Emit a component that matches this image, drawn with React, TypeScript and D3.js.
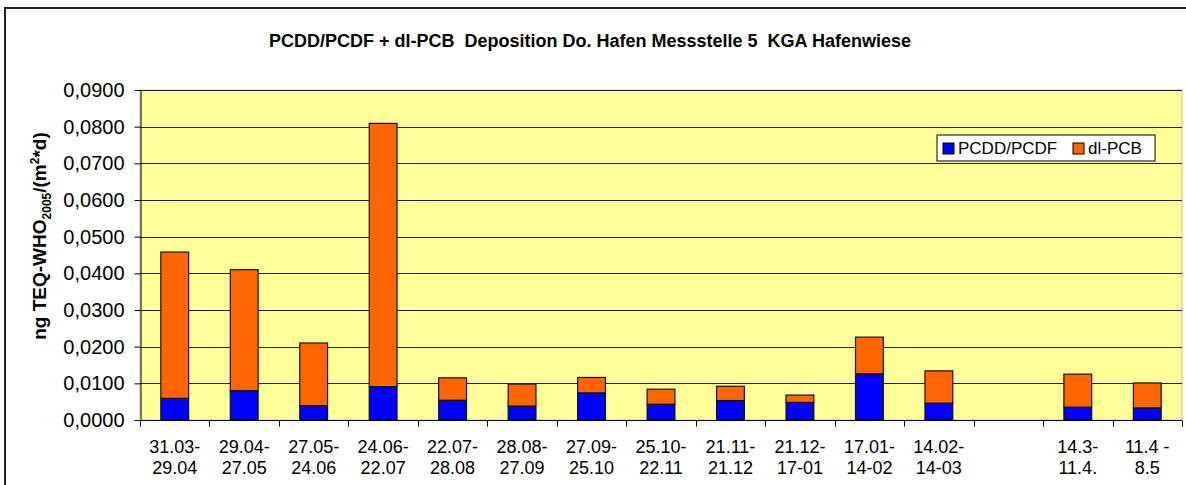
import * as d3 from "d3";
import { useEffect, useRef } from "react";

// x categories (two lines each), the 13th period has no data
const categories = [
    "31.03-|29.04",
    "29.04-|27.05",
    "27.05-|24.06",
    "24.06-|22.07",
    "22.07-|28.08",
    "28.08-|27.09",
    "27.09-|25.10",
    "25.10-|22.11",
    "21.11-|21.12",
    "21.12-|17-01",
    "17.01-|14-02",
    "14.02-|14-03",
    "|",
    "14.3-|11.4.",
    "11.4 -|8.5",
];

const pcdd = [0.0059, 0.008, 0.0039, 0.0091, 0.0054, 0.0038, 0.0074, 0.0043, 0.0053, 0.0048, 0.0126, 0.0046, null, 0.0035, 0.0033];
const dlpcb = [0.0399, 0.033, 0.0171, 0.0718, 0.0061, 0.006, 0.0042, 0.0041, 0.0039, 0.002, 0.01, 0.0088, null, 0.009, 0.0068];

const yTicks = [0, 0.01, 0.02, 0.03, 0.04, 0.05, 0.06, 0.07, 0.08, 0.09];
const seriesNames = ["PCDD/PCDF", "dl-PCB"];
const seriesColors = ["#0000ff", "#ff6600"];

const title = "PCDD/PCDF + dl-PCB  Deposition Do. Hafen Messstelle 5  KGA Hafenwiese";

export default function App() {
    const svgRef = useRef<SVGSVGElement>(null);
    const width = 1186;
    const height = 485;
    const plotLeft = 140;
    const plotRight = 1182;
    const plotTop = 90;
    const plotBottom = 420;
    const font = "'Liberation Sans', Arial, sans-serif";

    useEffect(() => {
        if (svgRef.current) {
            drawChart();
        }
    }, [svgRef]);

    const drawChart = () => {
        const svg = d3.select(svgRef.current);
        svg.selectAll("*").remove();

        // chart frame
        svg.append("rect")
            .attr("x", 5)
            .attr("y", 8)
            .attr("width", width + 20)
            .attr("height", height + 20)
            .attr("fill", "#fff")
            .attr("stroke", "#222")
            .attr("stroke-width", 2);

        svg.append("text")
            .attr("x", 590)
            .attr("y", 47)
            .attr("text-anchor", "middle")
            .attr("font-family", font)
            .attr("font-weight", "bold")
            .attr("font-size", 18)
            .style("white-space", "pre")
            .text(title);

        const scaleX = d3
            .scaleBand<number>()
            .domain(categories.map((_, i) => i))
            .range([plotLeft, plotRight])
            .padding(0);
        const scaleY = d3.scaleLinear().domain([0, 0.09]).range([plotBottom, plotTop]);

        // plot area
        svg.append("rect")
            .attr("x", plotLeft)
            .attr("y", plotTop)
            .attr("width", plotRight - plotLeft)
            .attr("height", plotBottom - plotTop)
            .attr("fill", "#ffff99")
            .attr("stroke", "#c8c878")
            .attr("stroke-width", 1);

        // horizontal grid lines
        svg.append("g")
            .selectAll("line")
            .data(yTicks.slice(1))
            .join("line")
            .attr("x1", plotLeft)
            .attr("x2", plotRight)
            .attr("y1", (d) => Math.round(scaleY(d)) + 0.5)
            .attr("y2", (d) => Math.round(scaleY(d)) + 0.5)
            .attr("stroke", "#222")
            .attr("stroke-width", 1);

        // stacked bars
        const table = categories.map((_, i) => ({
            idx: i,
            "PCDD/PCDF": pcdd[i] ?? 0,
            "dl-PCB": dlpcb[i] ?? 0,
        }));
        const stacked = d3.stack<any>().keys(seriesNames)(table);
        const barW = scaleX.bandwidth() * 0.4;
        stacked.forEach((layer, k) => {
            svg.append("g")
                .selectAll("rect")
                .data(layer.filter((d) => pcdd[d.data.idx] !== null))
                .join("rect")
                .attr("x", (d) => (scaleX(d.data.idx) as number) + scaleX.bandwidth() * 0.3)
                .attr("y", (d) => scaleY(d[1]))
                .attr("width", barW)
                .attr("height", (d) => scaleY(d[0]) - scaleY(d[1]))
                .attr("fill", seriesColors[k])
                .attr("stroke", "#111")
                .attr("stroke-width", 1.2);
        });

        // y axis
        const yAxis = svg.append("g")
            .attr("transform", "translate(" + (plotLeft + 0.5) + ",0)")
            .call(
                d3.axisLeft(scaleY)
                    .tickValues(yTicks)
                    .tickSize(6)
                    .tickSizeOuter(0)
                    .tickPadding(10)
                    .tickFormat((d) => d3.format(".4f")(d as number).replace(".", ","))
            );
        yAxis.select(".domain").attr("stroke", "#000");
        yAxis.selectAll(".tick line").attr("stroke", "#000");
        yAxis.selectAll(".tick text")
            .attr("font-family", font)
            .attr("font-size", 20)
            .attr("fill", "#000");

        // x axis with ticks on category boundaries
        const xAxis = svg.append("g").attr("transform", "translate(0," + (plotBottom + 0.5) + ")");
        xAxis.append("line")
            .attr("x1", plotLeft)
            .attr("x2", plotRight)
            .attr("stroke", "#000");
        xAxis.selectAll("line.tk")
            .data(d3.range(categories.length + 1))
            .join("line")
            .attr("class", "tk")
            .attr("x1", (i) => Math.round(plotLeft + i * scaleX.step()) + 0.5)
            .attr("x2", (i) => Math.round(plotLeft + i * scaleX.step()) + 0.5)
            .attr("y1", 0)
            .attr("y2", 6)
            .attr("stroke", "#000");
        const labels = xAxis.selectAll("text")
            .data(categories)
            .join("text")
            .attr("text-anchor", "middle")
            .attr("font-family", font)
            .attr("font-size", 18)
            .attr("fill", "#000");
        labels.each(function (d, i) {
            const parts = d.split("|");
            const cx = (scaleX(i) as number) + scaleX.bandwidth() / 2;
            parts.forEach((p, j) => {
                d3.select(this)
                    .append("tspan")
                    .attr("x", cx)
                    .attr("y", 32 + j * 21)
                    .text(p);
            });
        });

        // y axis title
        const yt = svg.append("text")
            .attr("transform", "translate(46,236) rotate(-90)")
            .attr("text-anchor", "middle")
            .attr("font-family", font)
            .attr("font-weight", "bold")
            .attr("font-size", 19);
        yt.append("tspan").text("ng TEQ-WHO");
        yt.append("tspan").attr("font-size", 12).attr("dy", 5).text("2005");
        yt.append("tspan").attr("dy", -5).text("/(m");
        yt.append("tspan").attr("font-size", 12).attr("dy", -7).text("2");
        yt.append("tspan").attr("dy", 7).text("*d)");

        // legend
        const lg = svg.append("g").attr("transform", "translate(937,135)");
        lg.append("rect")
            .attr("width", 218)
            .attr("height", 26)
            .attr("fill", "#fff")
            .attr("stroke", "#000");
        const legendX = [6, 136];
        seriesNames.forEach((name, k) => {
            lg.append("rect")
                .attr("x", legendX[k])
                .attr("y", 8)
                .attr("width", 11)
                .attr("height", 11)
                .attr("fill", seriesColors[k])
                .attr("stroke", "#000");
            lg.append("text")
                .attr("x", legendX[k] + 15)
                .attr("y", 19)
                .attr("font-family", font)
                .attr("font-size", 17)
                .text(name);
        });
    };

    return (
        <div style={{ position: "absolute", left: 0, top: 0 }}>
            <svg ref={svgRef} width={width} height={height} style={{ display: "block" }} />
        </div>
    );
}
